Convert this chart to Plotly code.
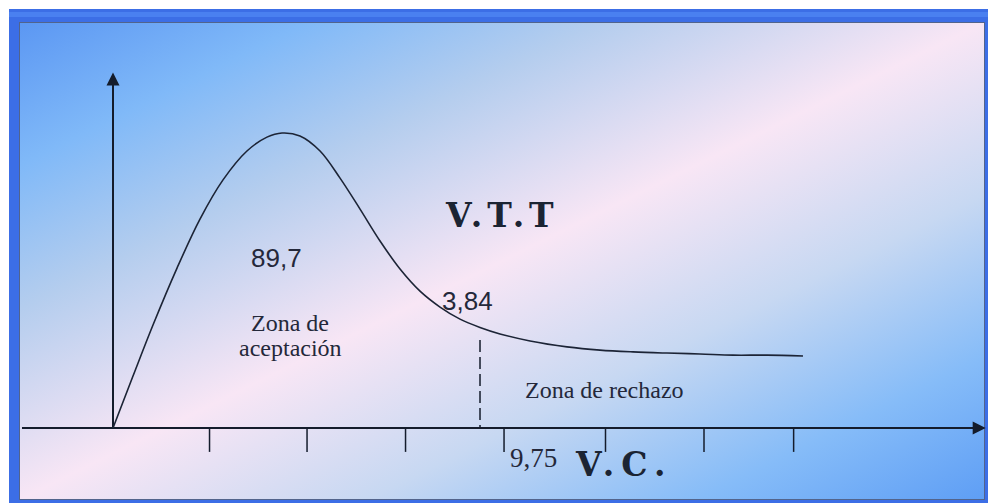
import base64
import plotly.graph_objects as go

# ---- data (diagram units: x = horizontal tick units, y = density height) ----
curve_x = [0, 0.203, 0.406, 0.650, 0.883, 1.117, 1.360, 1.563, 1.716, 1.898, 2.102,
           2.305, 2.508, 2.711, 2.914, 3.117, 3.320, 3.523, 3.726, 3.929, 4.234,
           4.609, 4.944, 5.279, 5.624, 5.959, 6.294, 6.640, 7.005]
curve_y = [0, 0.176, 0.349, 0.542, 0.708, 0.841, 0.939, 0.986, 1.0, 0.990, 0.939,
           0.847, 0.742, 0.634, 0.539, 0.464, 0.410, 0.369, 0.341, 0.319, 0.295,
           0.275, 0.264, 0.258, 0.254, 0.251, 0.247, 0.247, 0.244]
tick_x = [0.98, 1.97, 2.97, 3.97, 5.0, 6.0, 6.91]
critical_x = 3.726
critical_top = 0.298
value_labels = ["89,7", "3,84", "9,75"]
zone_labels = ["Zona de", "aceptación", "Zona de rechazo"]
title_labels = ["V.T.T", "V.C."]

INK = "#141c2c"
TEXT = "#24283a"

fig = go.Figure()

# x axis line and y axis line
fig.add_trace(go.Scatter(x=[-0.924, 8.70], y=[0, 0], mode="lines",
                         line=dict(color=INK, width=2), hoverinfo="skip"))
fig.add_trace(go.Scatter(x=[0, 0], y=[0, 1.10], mode="lines",
                         line=dict(color=INK, width=2), hoverinfo="skip"))

# tick marks
tx, ty = [], []
for t in tick_x:
    tx += [t, t, None]
    ty += [0, -0.081, None]
fig.add_trace(go.Scatter(x=tx, y=ty, mode="lines",
                         line=dict(color=INK, width=1.5), hoverinfo="skip"))

# dashed critical line
fig.add_trace(go.Scatter(x=[critical_x, critical_x], y=[critical_top, 0], mode="lines",
                         line=dict(color=INK, width=1.5, dash="12px,5px"), hoverinfo="skip"))

# curve
fig.add_trace(go.Scatter(x=curve_x, y=curve_y, mode="lines",
                         line=dict(color="#1c2436", width=1.6, shape="spline", smoothing=1.0),
                         hoverinfo="skip"))

ann = []
# arrow heads
ann.append(dict(x=8.86, y=0, ax=8.50, ay=0, xref="x", yref="y", axref="x", ayref="y",
                text="", showarrow=True, arrowhead=2, arrowwidth=2, arrowsize=1.3,
                arrowcolor=INK, standoff=0))
ann.append(dict(x=0, y=1.205, ax=0, ay=1.05, xref="x", yref="y", axref="x", ayref="y",
                text="", showarrow=True, arrowhead=2, arrowwidth=2, arrowsize=1.3,
                arrowcolor=INK, standoff=0))

def lab(text, x, y, family, size, color=TEXT, weight="normal"):
    ann.append(dict(x=x, y=y, xref="x", yref="y", text=text, showarrow=False,
                    xanchor="center", yanchor="middle",
                    font=dict(family=family, size=size, color=color, weight=weight)))

lab(value_labels[0], 1.655, 0.576, "Liberation Sans", 26)
lab(value_labels[1], 3.604, 0.430, "Liberation Sans", 26)
lab(value_labels[2], 4.264, -0.100, "Liberation Serif", 27)
lab(zone_labels[0], 1.797, 0.355, "Liberation Serif", 24)
lab(zone_labels[1], 1.797, 0.272, "Liberation Serif", 24)
lab(zone_labels[2], 4.985, 0.129, "Liberation Serif", 24)
lab('<span style="letter-spacing:5px">' + title_labels[0] + '</span>', 3.954, 0.722,
    "DejaVu Serif", 33, color="#1b2433", weight="bold")
lab('<span style="letter-spacing:7px">' + title_labels[1] + '</span>', 5.183, -0.125,
    "DejaVu Serif", 33, color="#1b2433", weight="bold")

# background frame + diagonal gradient as an SVG image
svg = """<svg xmlns='http://www.w3.org/2000/svg' width='979' height='494' viewBox='0 0 979 494'>
<defs><linearGradient id='g' x1='0' y1='0' x2='1' y2='1'>
<stop offset='0' stop-color='#5b97f3'/>
<stop offset='0.15' stop-color='#80b9f8'/>
<stop offset='0.3' stop-color='#b4cdee'/>
<stop offset='0.5' stop-color='#f8e6f5'/>
<stop offset='0.68' stop-color='#c7d8f2'/>
<stop offset='0.85' stop-color='#86bcf8'/>
<stop offset='1' stop-color='#5e9ef5'/>
</linearGradient></defs>
<rect x='0' y='0' width='979' height='494' fill='#3c6ee6'/>
<rect x='0' y='3' width='979' height='5' fill='#4a80f0'/>
<rect x='10' y='13' width='966' height='478' fill='url(#g)'/>
<rect x='10.5' y='13.5' width='965' height='477' fill='none' stroke='#52648c' stroke-width='1'/>
</svg>"""
src = "data:image/svg+xml;base64," + base64.b64encode(svg.encode()).decode()

W, H = 988, 503
fig.update_layout(
    width=W, height=H, autosize=False,
    margin=dict(l=0, r=0, t=0, b=0),
    paper_bgcolor="white", plot_bgcolor="rgba(0,0,0,0)",
    showlegend=False,
    xaxis=dict(range=[-113 / 98.5, (W - 113) / 98.5], visible=False, fixedrange=True),
    yaxis=dict(range=[(428 - H) / 295, 428 / 295], visible=False, fixedrange=True),
    annotations=ann,
    images=[dict(source=src, xref="paper", yref="paper", x=9 / W, y=1 - 9 / H,
                 sizex=979 / W, sizey=494 / H, xanchor="left", yanchor="top",
                 sizing="stretch", layer="below")],
)

fig.write_html("out.html", config={"displayModeBar": False, "staticPlot": True},
               post_script="document.body.style.margin='0';document.body.style.overflow='hidden';")
